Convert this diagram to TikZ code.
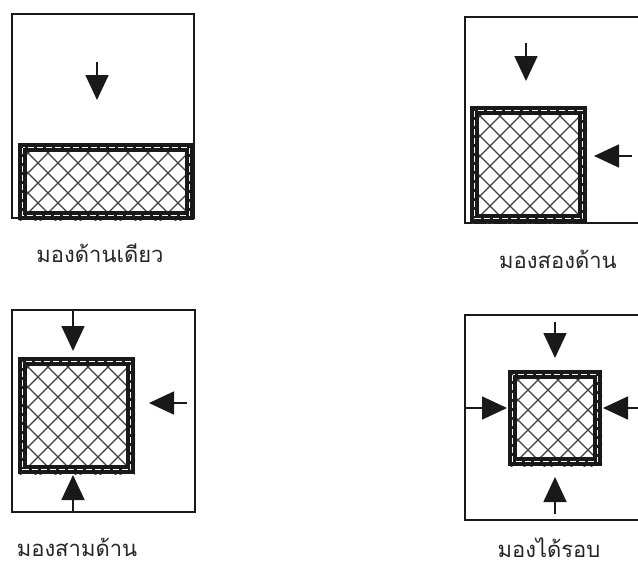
\documentclass[tikz,border=0pt]{standalone}
\usepackage{fontspec}
\newfontfamily\thaifont[Script=Thai]{Loma}
\usetikzlibrary{arrows.meta}
\tikzset{
  panelframe/.style={line width=1.8pt, draw=black!90},
  viewarrow/.style={line width=1.6pt, draw=black!90, -{Triangle[length=25pt,width=23pt]}},
  hatchline/.style={line width=1.1pt, draw=black!75},
  bandouter/.style={line width=9pt, draw=black!90},
  banddash/.style={line width=1.4pt, draw=white, dash pattern=on 6pt off 3pt},
  thailabel/.style={font=\thaifont\fontsize{22}{24}\selectfont, text=black!85, inner sep=0pt, anchor=base},
}
\newcommand\myglass[4]{%
  \begin{scope}
    \clip (#1,#2) rectangle (#3,#4);
    \foreach \k in {-10,...,12} {
      \draw[hatchline] (#1+\k*20,#2) -- ++(300,300);
      \draw[hatchline] (#1+\k*20,#2) -- ++(-300,300);
    }
  \end{scope}
  \draw[bandouter] (#1+4.5,#2+4.5) rectangle (#3-4.5,#4-4.5);
  \draw[banddash] (#1+4.5,#2+4.5) rectangle (#3-4.5,#4-4.5);
}
\begin{document}
\begin{tikzpicture}[x=1pt,y=-1pt]
\useasboundingbox (0,0) rectangle (638,568);
\clip (0,0) rectangle (638,568);
\fill[white] (0,0) rectangle (638,568);

% Panel 1
\draw[panelframe] (12,14) rectangle (194,218);
\myglass{18}{143}{194}{220}
\coordinate (a1s) at (97,62);
\coordinate (a1e) at (97,100);
\draw[viewarrow] (a1s) -- (a1e);
\node[thailabel] (l1) at (100,262) {มองด้านเดียว};

% Panel 2
\draw[panelframe] (640,17) -- (465,17) -- (465,223) -- (640,223);
\myglass{470}{106}{587}{223}
\coordinate (a2s) at (526,43);
\coordinate (a2e) at (526,81);
\draw[viewarrow] (a2s) -- (a2e);
\coordinate (b2s) at (632,156);
\coordinate (b2e) at (594,156);
\draw[viewarrow] (b2s) -- (b2e);
\node[thailabel] (l2) at (558,268) {มองสองด้าน};

% Panel 3
\draw[panelframe] (12,310) rectangle (195,512);
\myglass{18}{357}{135}{474}
\coordinate (a3s) at (73,310);
\coordinate (a3e) at (73,351);
\draw[viewarrow] (a3s) -- (a3e);
\coordinate (b3s) at (187,403);
\coordinate (b3e) at (149,403);
\draw[viewarrow] (b3s) -- (b3e);
\coordinate (c3s) at (73,512);
\coordinate (c3e) at (73,475);
\draw[viewarrow] (c3s) -- (c3e);
\node[thailabel] (l3) at (77,556) {มองสามด้าน};

% Panel 4
\draw[panelframe] (640,315) -- (465,315) -- (465,520) -- (640,520);
\myglass{508}{370}{602}{466}
\coordinate (a4s) at (555,322);
\coordinate (a4e) at (555,358);
\draw[viewarrow] (a4s) -- (a4e);
\coordinate (c4s) at (555,514);
\coordinate (c4e) at (555,477);
\draw[viewarrow] (c4s) -- (c4e);
\coordinate (d4s) at (465,408);
\coordinate (d4e) at (507,408);
\draw[viewarrow] (d4s) -- (d4e);
\coordinate (e4s) at (640,408);
\coordinate (e4e) at (603,408);
\draw[viewarrow] (e4s) -- (e4e);
\node[thailabel] (l4) at (549,557) {มองได้รอบ};
\end{tikzpicture}
\end{document}
